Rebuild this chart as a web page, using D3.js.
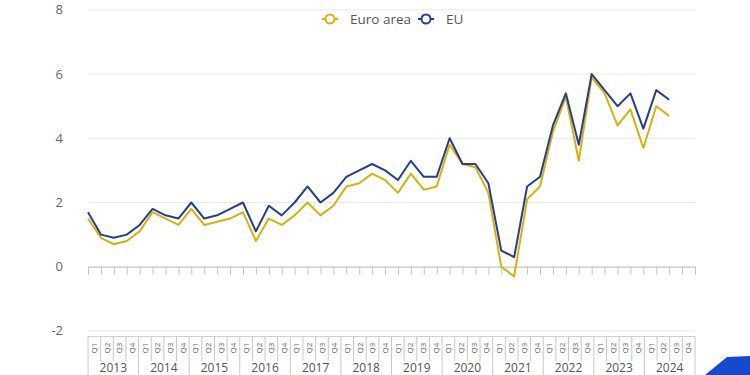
<!DOCTYPE html>
<html>
<head>
<meta charset="utf-8">
<script src="https://cdn.jsdelivr.net/npm/d3@7"></script>
<style>
  body { margin: 0; background: #fff; }
  svg { display: block; font-family: "Open Sans", "Noto Sans", sans-serif; }
</style>
</head>
<body>
<div class="linechart"></div>
<script>
// chart data
const years = ["2013", "2014", "2015", "2016", "2017", "2018", "2019", "2020", "2021", "2022", "2023", "2024"];
const quarterNames = ["Q1", "Q2", "Q3", "Q4"];
const yTicks = [-2, 0, 2, 4, 6, 8];
const euroArea = [1.5, 0.9, 0.7, 0.8, 1.1, 1.7, 1.5, 1.3, 1.8, 1.3, 1.4, 1.5, 1.7, 0.8, 1.5, 1.3,
                  1.6, 2.0, 1.6, 1.9, 2.5, 2.6, 2.9, 2.7, 2.3, 2.9, 2.4, 2.5, 3.8, 3.2, 3.1, 2.3,
                  0.0, -0.3, 2.1, 2.5, 4.2, 5.3, 3.3, 5.9, 5.4, 4.4, 4.9, 3.7, 5.0, 4.7];
const eu = [1.7, 1.0, 0.9, 1.0, 1.3, 1.8, 1.6, 1.5, 2.0, 1.5, 1.6, 1.8, 2.0, 1.1, 1.9, 1.6,
            2.0, 2.5, 2.0, 2.3, 2.8, 3.0, 3.2, 3.0, 2.7, 3.3, 2.8, 2.8, 4.0, 3.2, 3.2, 2.6,
            0.5, 0.3, 2.5, 2.8, 4.4, 5.4, 3.8, 6.0, 5.5, 5.0, 5.4, 4.3, 5.5, 5.2];

const xSize = 750; const ySize = 375;
const left = 88, right = 695;
const yellow = "#d9b10f", blue = "#263f8c";

// every quarter key, e.g. "2013-Q1"
const quarters = [];
years.forEach(function(yr) {
    quarterNames.forEach(function(q) { quarters.push(yr + "-" + q); });
});

const svg = d3.select(".linechart")
    .append("svg")
    .attr("width", xSize)
    .attr("height", ySize);

// scales
const x = d3.scalePoint().domain(quarters).range([left, right]);
const xBand = d3.scaleBand().domain(quarters).range([left, right]);
const y = d3.scaleLinear().domain([-2, 8]).range([330.9, 9.9]);

// horizontal grid + y labels
svg.append("g")
    .selectAll("line")
    .data(yTicks)
    .join("line")
    .attr("x1", left).attr("x2", right)
    .attr("y1", d => y(d)).attr("y2", d => y(d))
    .attr("stroke", "#e6e9f0")
    .attr("stroke-width", 1);

svg.append("g")
    .selectAll("text")
    .data(yTicks)
    .join("text")
    .attr("x", 63)
    .attr("y", d => y(d))
    .attr("dy", "0.35em")
    .attr("text-anchor", "end")
    .attr("font-size", 13)
    .attr("fill", "#666")
    .text(d => d);

// x axis sitting on zero
const xAxis = svg.append("g")
    .attr("transform", "translate(0," + y(0) + ")")
    .call(d3.axisBottom(x).tickSize(8).tickFormat("").tickSizeOuter(0));
xAxis.select(".domain").attr("stroke", "#c4c4c4");
xAxis.selectAll(".tick line").attr("stroke", "#c4c4c4");

// grouped category labels at the bottom
const boxTop = 336.5;
const labels = svg.append("g");
labels.append("line")
    .attr("x1", left).attr("x2", right)
    .attr("y1", boxTop).attr("y2", boxTop)
    .attr("stroke", "#d0d0d0");

labels.selectAll(".qline")
    .data(quarters)
    .join("line")
    .attr("class", "qline")
    .attr("x1", d => xBand(d)).attr("x2", d => xBand(d))
    .attr("y1", boxTop)
    .attr("y2", d => d.endsWith("Q1") ? ySize : 361)
    .attr("stroke", "#c8c8c8");

labels.append("line")
    .attr("x1", right).attr("x2", right)
    .attr("y1", boxTop).attr("y2", ySize)
    .attr("stroke", "#c8c8c8");

labels.selectAll(".qlabel")
    .data(quarters)
    .join("text")
    .attr("class", "qlabel")
    .attr("transform", d => "translate(" + (xBand(d) + xBand.bandwidth() / 2) + ",348) rotate(-90)")
    .attr("text-anchor", "middle")
    .attr("dy", "0.35em")
    .attr("font-size", 8)
    .attr("fill", "#666")
    .text(d => d.split("-")[1]);

labels.selectAll(".ylabel")
    .data(years)
    .join("text")
    .attr("class", "ylabel")
    .attr("x", d => xBand(d + "-Q1") + xBand.bandwidth() * 2)
    .attr("y", 367.5)
    .attr("dy", "0.35em")
    .attr("text-anchor", "middle")
    .attr("font-size", 12)
    .attr("fill", "#555")
    .text(d => d);

// lines
function drawLine(values, color) {
    svg.append("path")
        .datum(values)
        .attr("fill", "none")
        .attr("stroke", color)
        .attr("stroke-width", 2)
        .attr("stroke-linejoin", "round")
        .attr("d", d3.line()
            .x((d, i) => x(quarters[i]))
            .y(d => y(d)));
}
drawLine(euroArea, yellow);
drawLine(eu, blue);

// legend
const legend = svg.append("g").attr("transform", "translate(0,19)");
const items = [{name: "Euro area", color: yellow, x: 322}, {name: "EU", color: blue, x: 418}];
items.forEach(function(it) {
    legend.append("line")
        .attr("x1", it.x).attr("x2", it.x + 16)
        .attr("stroke", it.color).attr("stroke-width", 2);
    legend.append("circle")
        .attr("cx", it.x + 8).attr("r", 4.5)
        .attr("fill", "#fff").attr("stroke", it.color).attr("stroke-width", 2);
    legend.append("text")
        .attr("x", it.x + 28)
        .attr("dy", "0.35em")
        .attr("font-size", 13.5)
        .attr("fill", "#555")
        .text(it.name);
});

// corner mark
svg.append("polygon")
    .attr("points", "705,375 727,357 750,356 750,375")
    .attr("fill", "#1749cf");
</script>
</body>
</html>
